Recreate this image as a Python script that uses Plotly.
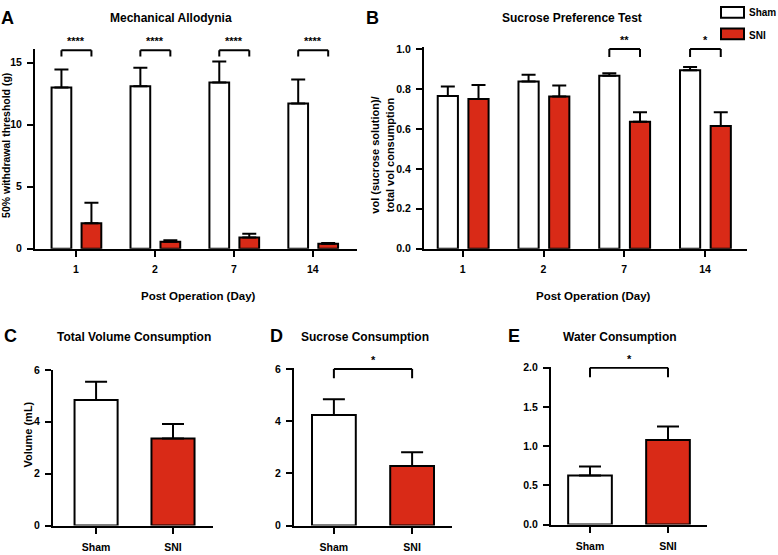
import plotly.graph_objects as go

W, H = 778, 555
RED = '#D92A17'
FONT = 'Liberation Sans'

# ---------------- data ----------------
days = ['1', '2', '7', '14']
allo_sham = [13.0, 13.1, 13.4, 11.7]
allo_sham_sem = [1.45, 1.5, 1.7, 1.95]
allo_sni = [2.05, 0.55, 0.9, 0.4]
allo_sni_sem = [1.65, 0.12, 0.3, 0.05]
allo_sig = ['****', '****', '****', '****']

spt_sham = [0.765, 0.838, 0.866, 0.894]
spt_sham_sem = [0.048, 0.033, 0.013, 0.016]
spt_sni = [0.75, 0.763, 0.636, 0.614]
spt_sni_sem = [0.07, 0.054, 0.047, 0.069]
spt_sig = ['', '', '**', '*']

groups = ['Sham', 'SNI']
total_vol = [4.84, 3.36]
total_vol_sem = [0.71, 0.56]
sucrose = [4.24, 2.28]
sucrose_sem = [0.60, 0.53]
sucrose_sig = '*'
water = [0.625, 1.08]
water_sem = [0.115, 0.17]
water_sig = '*'

# ---------------- helpers ----------------
def px(x):
    return x / W


def py(y):
    return 1 - y / H


TICKFONT = dict(family=FONT, size=10.5, color='black', weight='bold')


def yax(dom, rng, tickvals, fmt=None):
    d = dict(domain=[py(dom[0]), py(dom[1])], range=rng, tickvals=tickvals,
             showline=True, linewidth=2, linecolor='black', ticks='outside',
             ticklen=6, tickwidth=2, tickcolor='black', showgrid=False,
             zeroline=False, tickfont=TICKFONT, ticklabelstandoff=3,
             fixedrange=True)
    if fmt:
        d['tickformat'] = fmt
    return d


def xax(dom, rng, labels, standoff=4):
    return dict(domain=[px(dom[0]), px(dom[1])], range=rng,
                tickvals=list(range(len(labels))), ticktext=labels,
                showline=True, linewidth=2, linecolor='black', ticks='outside',
                ticklen=6, tickwidth=2, tickcolor='black', showgrid=False,
                zeroline=False, tickfont=TICKFONT, ticklabelstandoff=standoff,
                fixedrange=True)


def err(sem, w):
    return dict(type='data', array=sem, arrayminus=[0] * len(sem),
                symmetric=False, color='black', thickness=2, width=w)


fig = go.Figure()

# Panel A
idx4 = list(range(len(days)))
fig.add_trace(go.Bar(x=idx4, y=allo_sham, xaxis='x', yaxis='y', width=0.25, offset=-0.31,
                     marker=dict(color='white', line=dict(color='black', width=2)),
                     error_y=err(allo_sham_sem, 7), showlegend=False, name='Sham'))
fig.add_trace(go.Bar(x=idx4, y=allo_sni, xaxis='x', yaxis='y', width=0.25, offset=0.07,
                     marker=dict(color=RED, line=dict(color='black', width=2)),
                     error_y=err(allo_sni_sem, 7), showlegend=False, name='SNI'))
# Panel B
fig.add_trace(go.Bar(x=idx4, y=spt_sham, xaxis='x2', yaxis='y2', width=0.25, offset=-0.31,
                     marker=dict(color='white', line=dict(color='black', width=2)),
                     error_y=err(spt_sham_sem, 7), showlegend=False, name='Sham'))
fig.add_trace(go.Bar(x=idx4, y=spt_sni, xaxis='x2', yaxis='y2', width=0.25, offset=0.07,
                     marker=dict(color=RED, line=dict(color='black', width=2)),
                     error_y=err(spt_sni_sem, 7), showlegend=False, name='SNI'))
# Panels C, D, E
idx2 = list(range(len(groups)))
for vals, sem, ax in [(total_vol, total_vol_sem, '3'), (sucrose, sucrose_sem, '4'),
                      (water, water_sem, '5')]:
    fig.add_trace(go.Bar(x=idx2, y=vals, xaxis='x' + ax, yaxis='y' + ax, width=0.56,
                         marker=dict(color=['white', RED], line=dict(color='black', width=2)),
                         error_y=err(sem, 11), showlegend=False))

shapes = []
annotations = []


def bracket(xref, yref, x0, x1, ytop, ylow, text, shift=1):
    for (a, b, c, d) in [(x0, ylow, x0, ytop), (x0, ytop, x1, ytop), (x1, ytop, x1, ylow)]:
        shapes.append(dict(type='line', xref=xref, yref=yref, x0=a, y0=b, x1=c, y1=d,
                           line=dict(color='black', width=2), layer='above'))
    annotations.append(dict(xref=xref, yref=yref, x=(x0 + x1) / 2, y=ytop, text=text,
                            showarrow=False, yanchor='bottom', yshift=shift,
                            font=dict(family=FONT, size=11, color='black', weight='bold')))


for i, s in enumerate(allo_sig):
    if s:
        bracket('x', 'y', i - 0.185, i + 0.195, 16.0, 15.5, s)
for i, s in enumerate(spt_sig):
    if s:
        bracket('x2', 'y2', i - 0.185, i + 0.195, 1.0, 0.96, s)
bracket('x4', 'y4', 0, 1, 6.0, 5.65, sucrose_sig)
bracket('x5', 'y5', 0, 1, 2.0, 1.88, water_sig)


def text(x, y, t, size=11, angle=0, xanchor='center'):
    annotations.append(dict(xref='paper', yref='paper', x=px(x), y=py(y), text=t,
                            showarrow=False, textangle=angle, xanchor=xanchor, yanchor='middle',
                            font=dict(family=FONT, size=size, color='black', weight='bold')))


# panel letters
text(8, 12, 'A', 18)
text(372, 12, 'B', 18)
text(10, 337, 'C', 18)
text(276, 337, 'D', 18)
text(514, 337, 'E', 18)
# titles
text(171, 12, 'Mechanical Allodynia', 12)
text(572, 12, 'Sucrose Preference Test', 12)
text(134, 338, 'Total Volume Consumption', 12)
text(365, 338, 'Sucrose Consumption', 12)
text(620, 338, 'Water Consumption', 12)
# axis titles
text(198, 296, 'Post Operation (Day)', 11.5)
text(593, 296, 'Post Operation (Day)', 11.5)
text(6, 143, '50% withdrawal threshold (g)', 10.5, angle=-90)
text(382, 153, 'vol (sucrose solution)/<br>total vol consumption', 11, angle=-90)
text(28, 438, 'Volume (mL)', 11, angle=-90)

# legend
shapes.append(dict(type='rect', xref='paper', yref='paper', x0=px(721), x1=px(744),
                   y0=py(12), y1=py(1), fillcolor='white', line=dict(color='black', width=2)))
shapes.append(dict(type='rect', xref='paper', yref='paper', x0=px(721), x1=px(744),
                   y0=py(34), y1=py(23), fillcolor=RED, line=dict(color='black', width=2)))
text(747, 7, 'Sham', 10, xanchor='left')
text(747, 30, 'SNI', 10, xanchor='left')

fig.update_layout(
    width=W, height=H, margin=dict(l=0, r=0, t=0, b=0),
    paper_bgcolor='white', plot_bgcolor='white', showlegend=False,
    barmode='group',
    xaxis=dict(xax((35, 357), [-0.52, 3.56], days), anchor='y'),
    yaxis=dict(yax((248, 44), [0, 16.1], [0, 5, 10, 15]), anchor='x'),
    xaxis2=dict(xax((424, 747), [-0.48, 3.52], days), anchor='y2'),
    yaxis2=dict(yax((248, 42), [0, 1.01], [0, 0.2, 0.4, 0.6, 0.8, 1.0], '.1f'), anchor='x2'),
    xaxis3=dict(xax((53, 213), [-0.56, 1.52], groups, 5), anchor='y3'),
    yaxis3=dict(yax((531, 372), [0, 6], [0, 2, 4, 6]), anchor='x3'),
    xaxis4=dict(xax((294, 452), [-0.51, 1.51], groups, 5), anchor='y4'),
    yaxis4=dict(yax((531, 370), [0, 6.04], [0, 2, 4, 6]), anchor='x4'),
    xaxis5=dict(xax((551, 707), [-0.5, 1.5], groups, 5), anchor='y5'),
    yaxis5=dict(yax((530, 369), [0, 2.01], [0, 0.5, 1.0, 1.5, 2.0], '.1f'), anchor='x5'),
    shapes=shapes, annotations=annotations,
)

fig.write_html('out.html', config={'displayModeBar': False},
               post_script="document.body.style.margin='0';document.body.style.overflow='hidden';")
